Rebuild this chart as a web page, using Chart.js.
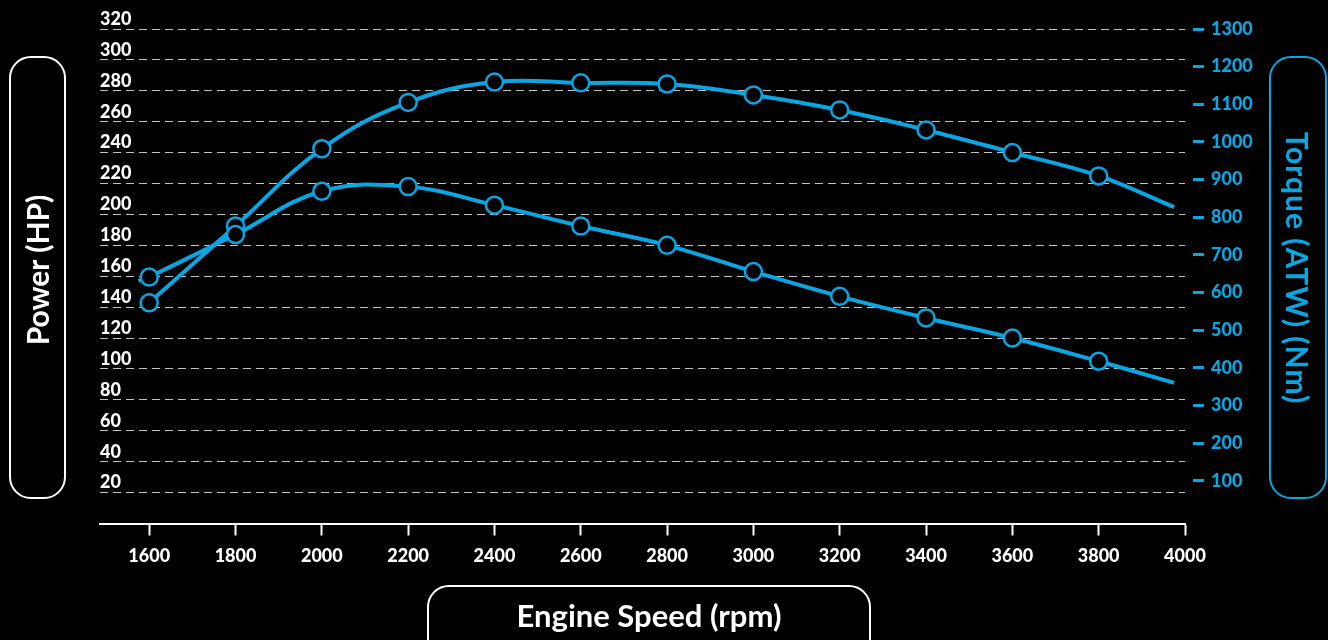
<!DOCTYPE html>
<html>
<head>
<meta charset="utf-8">
<script src="https://cdn.jsdelivr.net/npm/chart.js@4"></script>
<style>
  html, body { margin: 0; padding: 0; background: #000; }
  #wrap { position: relative; width: 1328px; height: 640px; overflow: hidden; }
  canvas { position: absolute; left: 0; top: 0; }
  .box {
    position: absolute; box-sizing: border-box; border: 2px solid #fff;
    border-radius: 22px; font-family: Lato, sans-serif; font-weight: bold;
    display: flex; align-items: center; justify-content: center; white-space: nowrap;
  }
  .box span { display: inline-block; }
  #leftBox { left: 9px; top: 56px; width: 57px; height: 443px; color: #fff; font-size: 30px; }
  #leftBox span { transform: rotate(-90deg); margin-top: -16px; }
  #rightBox { left: 1269px; top: 56px; width: 58px; height: 443px; color: #08a6e2; border-color: #08a6e2; font-size: 30px; letter-spacing: 1px; }
  #rightBox span { transform: rotate(90deg); margin-top: -20px; }
  #bottomBox { left: 427px; top: 585px; width: 444px; height: 80px; color: #fff; font-size: 31px; align-items: flex-start; padding-top: 9px; }
</style>
</head>
<body>
<div id="wrap">
  <canvas id="chart" width="1328" height="640"></canvas>
  <div class="box" id="leftBox"><span>Power (HP)</span></div>
  <div class="box" id="rightBox"><span>Torque (ATW) (Nm)</span></div>
  <div class="box" id="bottomBox"><span>Engine Speed (rpm)</span></div>
</div>
<script>
const BLUE = '#08a6e2';

// engine speed ticks
const rpmTicks = [1600, 1800, 2000, 2200, 2400, 2600, 2800, 3000, 3200, 3400, 3600, 3800, 4000];
const hpTicks = [20, 40, 60, 80, 100, 120, 140, 160, 180, 200, 220, 240, 260, 280, 300, 320];
const nmTicks = [100, 200, 300, 400, 500, 600, 700, 800, 900, 1000, 1100, 1200, 1300];

// lower curve (left axis)
const powerRpm = [1575, 1600, 1800, 2000, 2200, 2400, 2600, 2800, 3000, 3200, 3400, 3600, 3800, 3975];
const powerHp = [157, 159.5, 187, 215, 218, 206, 192.5, 180, 163, 147, 133, 120, 105, 91];

// upper curve (right axis)
const torqueRpm = [1600, 1800, 2000, 2200, 2400, 2600, 2800, 3000, 3200, 3400, 3600, 3800, 3975];
const torqueNm = [573, 777, 982, 1105, 1159, 1157, 1154, 1125, 1085, 1032, 972, 910, 827];

function pts(xs, ys) {
  return xs.map((x, i) => ({ x: x, y: ys[i] }));
}

// markers only on the 200 rpm steps
const markerRadius = ctx => (ctx.raw && ctx.raw.x % 200 === 0) ? 8.5 : 0;

function lineSet(label, data, axis) {
  return {
    label,
    data,
    yAxisID: axis,
    borderColor: BLUE,
    borderWidth: 4,
    tension: 0.4,
    pointRadius: markerRadius,
    pointHoverRadius: markerRadius,
    pointBackgroundColor: '#000',
    pointBorderColor: BLUE,
    pointBorderWidth: 2.5
  };
}

const tickFont = { family: 'Lato', weight: 900, size: 18 };
const plain = v => String(v);

new Chart(document.getElementById('chart').getContext('2d'), {
  type: 'line',
  data: {
    datasets: [
      lineSet('Power (HP)', pts(powerRpm, powerHp), 'y'),
      lineSet('Torque (ATW) (Nm)', pts(torqueRpm, torqueNm), 'y2')
    ]
  },
  options: {
    responsive: false,
    animation: false,
    layout: { padding: { top: 29, left: 0, right: 0, bottom: 0 } },
    plugins: { legend: { display: false }, tooltip: { enabled: false } },
    scales: {
      x: {
        type: 'linear',
        min: 1486,
        max: 4000,
        afterBuildTicks: s => { s.ticks = rpmTicks.map(v => ({ value: v })); },
        afterFit: s => { s.height = 116.5; },
        border: { display: true, color: '#fff', width: 2 },
        grid: { drawOnChartArea: false, drawTicks: true, tickLength: 12, tickColor: '#fff', tickWidth: 2 },
        ticks: {
          color: '#fff', padding: 10, font: tickFont,
          maxRotation: 0, autoSkip: false, callback: plain
        }
      },
      y: {
        position: 'left',
        min: 0,
        max: 320,
        afterBuildTicks: s => { s.ticks = hpTicks.map(v => ({ value: v })); },
        afterFit: s => { s.width = 100; },
        border: { display: false, dash: [8, 5] },
        grid: { color: '#c4c4c4', lineWidth: 1, drawTicks: false },
        ticks: {
          mirror: true, padding: 0, labelOffset: -10,
          color: '#fff', font: tickFont, callback: plain
        }
      },
      y2: {
        position: 'right',
        min: -13,
        max: 1300,
        afterBuildTicks: s => { s.ticks = nmTicks.map(v => ({ value: v })); },
        afterFit: s => { s.width = 143; },
        border: { display: false },
        grid: {
          drawOnChartArea: false, drawTicks: true, tickLength: 20,
          tickColor: BLUE, tickWidth: 3, tickBorderDash: [0, 8, 11, 100]
        },
        ticks: {
          color: BLUE, padding: 6, font: tickFont, callback: plain
        }
      }
    }
  }
});
</script>
</body>
</html>
